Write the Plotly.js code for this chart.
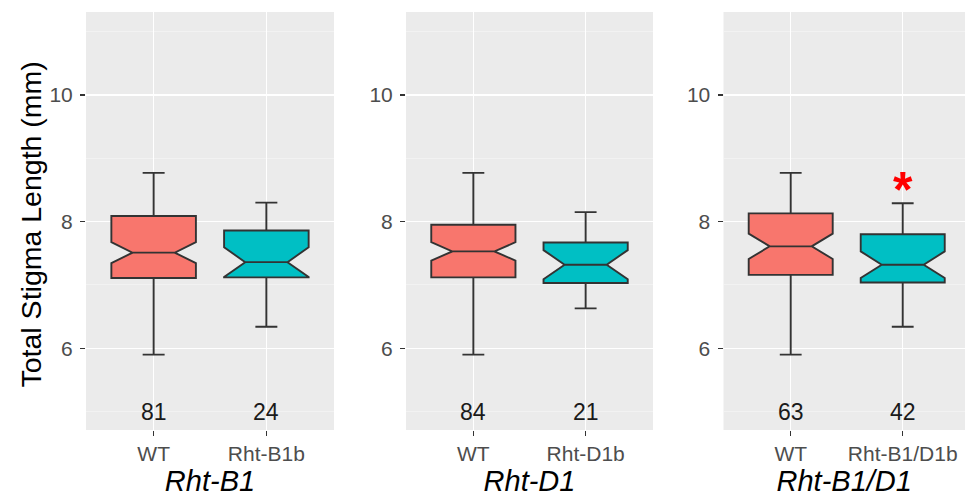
<!DOCTYPE html>
<html>
<head>
<meta charset="utf-8">
<script src="https://cdn.plot.ly/plotly-3.0.1.min.js"></script>
<style>html,body{margin:0;padding:0;background:#fff;}#chart{width:965px;height:497px;}</style>
</head>
<body>
<div id="chart"></div>
<script>
// ---- data ----
const panelTitles = ['Rht-B1', 'Rht-D1', 'Rht-B1/D1'];
const yTitle = 'Total Stigma Length (mm)';
const wtLabels = ['WT', 'WT', 'WT'];
const mutLabels = ['Rht-B1b', 'Rht-D1b', 'Rht-B1/D1b'];

const wtLower  = [5.90, 5.90, 5.90];
const wtQ1     = [7.11, 7.12, 7.16];
const wtMedian = [7.51, 7.53, 7.61];
const wtQ3     = [8.09, 7.95, 8.13];
const wtUpper  = [8.77, 8.77, 8.77];
const wtNotch  = [0.165, 0.145, 0.20];
const wtN      = [81, 84, 63];

const mutLower  = [6.34, 6.63, 6.34];
const mutQ1     = [7.12, 7.03, 7.04];
const mutMedian = [7.36, 7.32, 7.32];
const mutQ3     = [7.86, 7.67, 7.80];
const mutUpper  = [8.30, 8.15, 8.29];
const mutNotch  = [0.235, 0.23, 0.21];
const mutN      = [24, 21, 42];

const signifPanel = [false, false, true];
const signifY = 8.50;
const countY = 5.0;

// ---- styling ----
const FONT = 'Liberation Sans, Arial, Helvetica, sans-serif';
const wtColor = '#F8766D';
const mutColor = '#00BFC4';
const lineColor = '#333333';

const domains = [[86/965, 334/965], [406/965, 653/965], [723.5/965, 1]];
const xranges = [[-0.6, 1.6], [-0.6, 1.6], [-0.6, 1.556]];
const yDomain = [67/497, 485/497];
const yRange = [4.71, 11.31];

const traces = [];
const annotations = [];
const layout = {
  width: 965, height: 497,
  margin: {l: 0, r: 0, t: 0, b: 0},
  paper_bgcolor: '#ffffff',
  plot_bgcolor: '#EBEBEB',
  showlegend: false,
  font: {family: FONT},
  boxmode: 'overlay'
};

for (let i = 0; i < 3; i++) {
  const sfx = i === 0 ? '' : String(i + 1);
  const xa = 'x' + sfx, ya = 'y' + sfx;
  const cats = [wtLabels[i], mutLabels[i]];
  const common = {
    type: 'box', xaxis: xa, yaxis: ya, notched: true, notchwidth: 0.25,
    boxpoints: false, width: 0.75, whiskerwidth: 0.26,
    line: {color: lineColor, width: 1.9}, hoverinfo: 'skip'
  };
  traces.push(Object.assign({}, common, {
    x: [cats[0]], q1: [wtQ1[i]], median: [wtMedian[i]], q3: [wtQ3[i]],
    lowerfence: [wtLower[i]], upperfence: [wtUpper[i]], notchspan: [wtNotch[i]],
    fillcolor: wtColor
  }));
  traces.push(Object.assign({}, common, {
    x: [cats[1]], q1: [mutQ1[i]], median: [mutMedian[i]], q3: [mutQ3[i]],
    lowerfence: [mutLower[i]], upperfence: [mutUpper[i]], notchspan: [mutNotch[i]],
    fillcolor: mutColor
  }));

  layout['xaxis' + sfx] = {
    domain: domains[i], anchor: ya, type: 'category',
    categoryorder: 'array', categoryarray: cats,
    range: xranges[i], fixedrange: true,
    showgrid: true, gridcolor: '#ffffff', gridwidth: 1.5,
    zeroline: false, showline: false,
    ticks: 'outside', ticklen: 5, tickwidth: 1.3, tickcolor: lineColor,
    tickfont: {family: FONT, size: 21, color: '#4D4D4D'},
    title: {text: panelTitles[i], font: {family: FONT, size: 29, color: '#000000', style: 'italic'}},
    automargin: false
  };
  layout['yaxis' + sfx] = {
    domain: yDomain, anchor: xa, range: yRange, fixedrange: true,
    tickvals: [6, 8, 10], ticktext: ['6', '8', '10'],
    showgrid: true, gridcolor: '#ffffff', gridwidth: 1.5,
    minor: {tickvals: [5, 7, 9, 11], showgrid: true, gridcolor: '#F4F4F4', gridwidth: 0.8, ticks: ''},
    zeroline: false, showline: false,
    ticks: 'outside', ticklen: 5, tickwidth: 1.3, tickcolor: lineColor,
    ticklabelstandoff: 3,
    tickfont: {family: FONT, size: 21, color: '#4D4D4D'},
    automargin: false
  };

  annotations.push({xref: xa, yref: ya, x: cats[0], y: countY, text: String(wtN[i]),
    showarrow: false, font: {family: FONT, size: 23, color: '#1A1A1A'}});
  annotations.push({xref: xa, yref: ya, x: cats[1], y: countY, text: String(mutN[i]),
    showarrow: false, font: {family: FONT, size: 23, color: '#1A1A1A'}});
  if (signifPanel[i]) {
    annotations.push({xref: xa, yref: ya, x: cats[1], y: signifY, text: '<b>*</b>',
      showarrow: false, yanchor: 'middle', font: {family: FONT, size: 50, color: '#FF0000'}});
  }
}

// y-axis title (shared, left of first panel)
annotations.push({xref: 'paper', yref: 'paper', x: 30/965, y: (497 - 224.5)/497,
  xanchor: 'center', yanchor: 'middle', textangle: -90, showarrow: false,
  text: yTitle, font: {family: FONT, size: 28.5, color: '#000000'}});
layout.annotations = annotations;

Plotly.newPlot('chart', traces, layout, {staticPlot: true, displayModeBar: false});
</script>
</body>
</html>
